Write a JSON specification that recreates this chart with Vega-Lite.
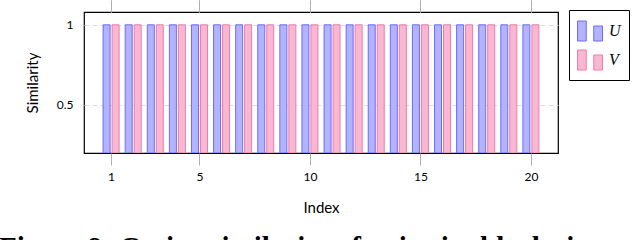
{
  "$schema": "https://vega.github.io/schema/vega-lite/v6.json",
  "autosize": "none",
  "width": 474,
  "height": 141,
  "padding": {"left": 84, "top": 12, "right": 82, "bottom": 87},
  "background": "white",
  "config": {
    "view": {"stroke": "black", "strokeWidth": 1.2},
    "font": "Lato",
    "legend": {
      "title": null,
      "orient": "none",
      "legendX": 485,
      "legendY": -2,
      "strokeColor": "black",
      "padding": 8,
      "symbolType": "M-1,-0.8H-0.3V0.8H-1Z M0.3,-0.4H1V0.8H0.3Z",
      "symbolSize": 625,
      "symbolStrokeWidth": 1,
      "labelFont": "Liberation Serif",
      "labelFontStyle": "italic",
      "labelFontSize": 16,
      "labelColor": "black",
      "labelOffset": 6,
      "rowPadding": 4
    }
  },
  "title": {
    "text": "Figure 9: Cosine similarity of pairwise blocks in vector in the",
    "orient": "bottom",
    "anchor": "start",
    "frame": "group",
    "dx": -85,
    "offset": 19,
    "font": "Liberation Serif",
    "fontSize": 29,
    "fontWeight": "bold",
    "color": "black"
  },
  "data": {
    "values": [
      {"index": 1, "series": "U", "similarity": 1}, {"index": 1, "series": "V", "similarity": 1},
      {"index": 2, "series": "U", "similarity": 1}, {"index": 2, "series": "V", "similarity": 1},
      {"index": 3, "series": "U", "similarity": 1}, {"index": 3, "series": "V", "similarity": 1},
      {"index": 4, "series": "U", "similarity": 1}, {"index": 4, "series": "V", "similarity": 1},
      {"index": 5, "series": "U", "similarity": 1}, {"index": 5, "series": "V", "similarity": 1},
      {"index": 6, "series": "U", "similarity": 1}, {"index": 6, "series": "V", "similarity": 1},
      {"index": 7, "series": "U", "similarity": 1}, {"index": 7, "series": "V", "similarity": 1},
      {"index": 8, "series": "U", "similarity": 1}, {"index": 8, "series": "V", "similarity": 1},
      {"index": 9, "series": "U", "similarity": 1}, {"index": 9, "series": "V", "similarity": 1},
      {"index": 10, "series": "U", "similarity": 1}, {"index": 10, "series": "V", "similarity": 1},
      {"index": 11, "series": "U", "similarity": 1}, {"index": 11, "series": "V", "similarity": 1},
      {"index": 12, "series": "U", "similarity": 1}, {"index": 12, "series": "V", "similarity": 1},
      {"index": 13, "series": "U", "similarity": 1}, {"index": 13, "series": "V", "similarity": 1},
      {"index": 14, "series": "U", "similarity": 1}, {"index": 14, "series": "V", "similarity": 1},
      {"index": 15, "series": "U", "similarity": 1}, {"index": 15, "series": "V", "similarity": 1},
      {"index": 16, "series": "U", "similarity": 1}, {"index": 16, "series": "V", "similarity": 1},
      {"index": 17, "series": "U", "similarity": 1}, {"index": 17, "series": "V", "similarity": 1},
      {"index": 18, "series": "U", "similarity": 1}, {"index": 18, "series": "V", "similarity": 1},
      {"index": 19, "series": "U", "similarity": 1}, {"index": 19, "series": "V", "similarity": 1},
      {"index": 20, "series": "U", "similarity": 1}, {"index": 20, "series": "V", "similarity": 1}
    ]
  },
  "encoding": {
    "x": {
      "field": "index",
      "type": "quantitative",
      "scale": {"domain": [0, 21], "nice": false, "zero": false},
      "axis": {
        "title": "Index",
        "values": [1, 5, 10, 15, 20],
        "grid": false,
        "domain": false,
        "tickSize": 12,
        "tickColor": "#b0b0b0",
        "labelPadding": 6,
        "labelFont": "Lato",
        "labelFontSize": 12,
        "labelColor": "black",
        "titleFont": "Lato",
        "titleFontSize": 15,
        "titleFontWeight": "normal",
        "titleColor": "black",
        "titlePadding": 18
      }
    },
    "y": {
      "field": "similarity",
      "type": "quantitative",
      "scale": {"domain": [0.2, 1.08], "nice": false, "zero": false},
      "axis": {
        "title": "Similarity",
        "values": [0.5, 1],
        "labelExpr": "datum.value == 1 ? '1' : '0.5'",
        "grid": true,
        "gridDash": [5, 3],
        "gridColor": "#dcdcdc",
        "domain": false,
        "ticks": false,
        "labelPadding": 11,
        "labelFont": "Lato",
        "labelFontSize": 12,
        "labelColor": "black",
        "titleFont": "Lato",
        "titleFontSize": 15,
        "titleFontWeight": "normal",
        "titleColor": "black",
        "titlePadding": 16
      }
    },
    "y2": {"datum": 0.2},
    "color": {
      "field": "series",
      "type": "nominal",
      "scale": {"domain": ["U", "V"], "range": ["#b3b3ff", "#f9b8d2"]}
    },
    "stroke": {
      "field": "series",
      "type": "nominal",
      "scale": {"domain": ["U", "V"], "range": ["#6b6bff", "#f07aaa"]}
    }
  },
  "layer": [
    {
      "transform": [{"filter": "datum.series == 'U'"}],
      "mark": {"type": "bar", "width": 7, "xOffset": -4.5, "strokeWidth": 1, "clip": true}
    },
    {
      "transform": [{"filter": "datum.series == 'V'"}],
      "mark": {"type": "bar", "width": 7, "xOffset": 4.5, "strokeWidth": 1, "clip": true}
    },
    {
      "mark": {"type": "rule", "color": "#b0b0b0"},
      "encoding": {
        "x": {
          "field": "index",
          "type": "quantitative",
          "axis": {
            "orient": "top",
            "title": null,
            "labels": false,
            "values": [1, 5, 10, 15, 20],
            "grid": false,
            "domain": false,
            "tickSize": 12,
            "tickColor": "#b0b0b0"
          }
        },
        "y": {"datum": 0.2},
        "y2": {"datum": 0.2},
        "color": {"value": "#b0b0b0"},
        "stroke": {"value": "#b0b0b0"},
        "opacity": {"value": 0}
      }
    }
  ],
  "resolve": {"axis": {"x": "independent"}}
}
